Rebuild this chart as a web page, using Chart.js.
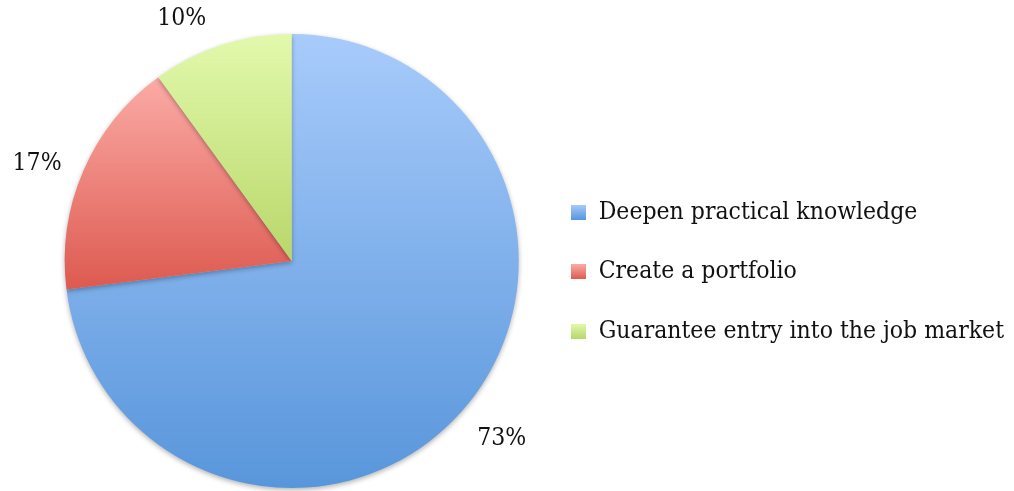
<!DOCTYPE html>
<html>
<head>
<meta charset="utf-8">
<script src="https://cdn.jsdelivr.net/npm/chart.js@4/dist/chart.umd.min.js"></script>
<style>
  html, body { margin: 0; padding: 0; background: #fff; }
  #wrap { width: 1014px; height: 491px; }
</style>
</head>
<body>
<div id="wrap"><canvas id="goalsChart" width="1014" height="491"></canvas></div>
<script>
var labels = ['Deepen practical knowledge', 'Create a portfolio', 'Guarantee entry into the job market'];
var shares = [73, 17, 10];
var topColors = ['#a8cbfb', '#fbaba6', '#e2f9ac'];
var bottomColors = ['#5896db', '#dd5a50', '#b8d76a'];
// small hand nudges for the outside labels (px)
var labelNudge = [[6, -2], [-5, 11], [-26, 16]];

var fontFamily = '"DejaVu Serif Condensed", "DejaVu Serif", serif';
var fontSize = 24.5;
var textColor = '#111';

// small gradient squares used as legend markers
function legendSwatch(i) {
    var c = document.createElement('canvas');
    c.width = 15;
    c.height = 15;
    var g = c.getContext('2d');
    var grad = g.createLinearGradient(0, 0, 0, 15);
    grad.addColorStop(0, topColors[i]);
    grad.addColorStop(1, bottomColors[i]);
    g.fillStyle = grad;
    g.fillRect(0, 0, 15, 15);
    return c;
}
var swatches = labels.map(function (l, i) { return legendSwatch(i); });

// vertical gradient fitted to each slice's own height
var sliceGradients = {
    id: 'sliceGradients',
    beforeDatasetsDraw: function (chart) {
        var ctx = chart.ctx;
        chart.getDatasetMeta(0).data.forEach(function (arc, i) {
            var r = arc.outerRadius;
            var a0 = arc.startAngle, a1 = arc.endAngle;
            var ys = [arc.y, arc.y + r * Math.sin(a0), arc.y + r * Math.sin(a1)];
            [Math.PI / 2, -Math.PI / 2, 3 * Math.PI / 2, 5 * Math.PI / 2].forEach(function (t) {
                if (t >= a0 && t <= a1) ys.push(arc.y + r * Math.sin(t));
            });
            var grad = ctx.createLinearGradient(0, Math.min.apply(null, ys), 0, Math.max.apply(null, ys));
            grad.addColorStop(0, topColors[i]);
            grad.addColorStop(1, bottomColors[i]);
            arc.options.backgroundColor = grad;
        });
        ctx.save();
        ctx.shadowColor = 'rgba(0, 0, 0, 0.3)';
        ctx.shadowBlur = 5;
        ctx.shadowOffsetY = 2;
    },
    afterDatasetsDraw: function (chart) {
        chart.ctx.restore();
    }
};

// percentage labels outside the pie
var percentLabels = {
    id: 'percentLabels',
    afterDraw: function (chart) {
        var ctx = chart.ctx;
        ctx.save();
        ctx.font = fontSize + 'px ' + fontFamily;
        ctx.fillStyle = textColor;
        ctx.textAlign = 'center';
        ctx.textBaseline = 'middle';
        chart.getDatasetMeta(0).data.forEach(function (arc, i) {
            var mid = (arc.startAngle + arc.endAngle) / 2;
            var d = arc.outerRadius + 45;
            ctx.fillText(shares[i] + '%',
                arc.x + d * Math.cos(mid) + labelNudge[i][0],
                arc.y + d * Math.sin(mid) + labelNudge[i][1]);
        });
        ctx.restore();
    }
};

var chart = new Chart(document.getElementById('goalsChart'), {
    type: 'pie',
    data: {
        labels: labels,
        datasets: [{
            data: shares,
            backgroundColor: bottomColors,
            borderWidth: 0
        }]
    },
    options: {
        responsive: false,
        animation: false,
        layout: {
            padding: { left: 47, right: 0, top: 34, bottom: 3 }
        },
        plugins: {
            tooltip: { enabled: false },
            legend: {
                position: 'right',
                // empty title just pushes the items down a little
                title: { display: true, text: '', padding: 0, font: { size: 18 } },
                labels: {
                    usePointStyle: true,
                    boxWidth: 15,
                    boxHeight: 15,
                    padding: 35,
                    color: textColor,
                    font: { family: fontFamily, size: fontSize },
                    generateLabels: function (chart) {
                        return labels.map(function (text, i) {
                            return {
                                text: text,
                                pointStyle: swatches[i],
                                fillStyle: bottomColors[i],
                                fontColor: textColor,
                                lineWidth: 0,
                                hidden: false,
                                index: i
                            };
                        });
                    }
                }
            }
        }
    },
    plugins: [sliceGradients, percentLabels]
});
</script>
</body>
</html>
